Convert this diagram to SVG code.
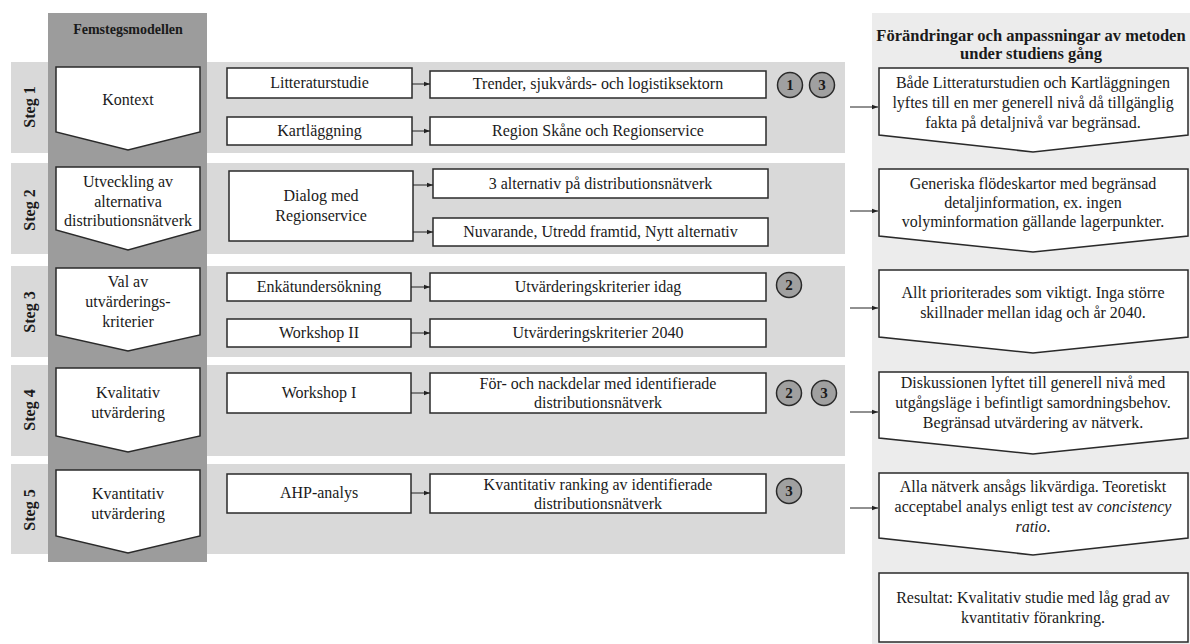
<svg xmlns="http://www.w3.org/2000/svg" width="1190" height="644" viewBox="0 0 1190 644" font-family="'Liberation Serif', 'Times New Roman', serif">
  <defs>
    <marker id="ah" viewBox="0 0 6 6" refX="6" refY="3" markerWidth="6" markerHeight="6" markerUnits="userSpaceOnUse" orient="auto">
      <path d="M0,0.8 L6,3 L0,5.2 Z" fill="#222"/>
    </marker>
  </defs>
  <style>
    text { font-family: "Liberation Serif", "Times New Roman", serif; fill: #1a1a1a; }
    .t { font-size: 16px; text-anchor: middle; }
    .hd { font-size: 16.5px; font-weight: bold; text-anchor: middle; }
    .steg { font-size: 16px; font-weight: bold; text-anchor: middle; }
    .num { font-size: 15px; font-weight: bold; text-anchor: middle; }
    .band { fill: #d9d9d9; }
    .box { fill: #ffffff; stroke: #2a2a2a; stroke-width: 1.5; }
    .badge { fill: #a0a0a0; stroke: #2a2a2a; stroke-width: 1.5; }
    .conn { stroke: #222; stroke-width: 1; fill: none; marker-end: url(#ah); }
  </style>

  <!-- background panels -->
  <rect x="872" y="13" width="318" height="631" fill="#ececec"/>
  <rect class="band" x="11" y="62" width="834" height="91"/>
  <rect class="band" x="11" y="163" width="834" height="91"/>
  <rect class="band" x="11" y="266" width="834" height="91"/>
  <rect class="band" x="11" y="365" width="834" height="91"/>
  <rect class="band" x="11" y="464" width="834" height="90"/>
  <rect x="48" y="13" width="159" height="549" fill="#9c9c9c"/>

  <!-- headers -->
  <text x="128" y="34" style="font-size:14px;font-weight:bold;text-anchor:middle">Femstegsmodellen</text>
  <text class="hd" x="1031" y="41">Förändringar och anpassningar av metoden</text>
  <text class="hd" x="1031" y="59">under studiens gång</text>

  <!-- step labels -->
  <g id="steg-labels">
    <text class="steg" transform="translate(35,107) rotate(-90)">Steg 1</text>
    <text class="steg" transform="translate(35,210) rotate(-90)">Steg 2</text>
    <text class="steg" transform="translate(35,312) rotate(-90)">Steg 3</text>
    <text class="steg" transform="translate(35,410) rotate(-90)">Steg 4</text>
    <text class="steg" transform="translate(35,510) rotate(-90)">Steg 5</text>
  </g>

  <!-- five-step model -->
  <g id="kontext">
    <polygon class="box" points="56,67 200,67 200,132 128,150 56,132"/>
    <text class="t" x="128" y="105">Kontext</text>
  </g>
  <g id="utveckling">
    <polygon class="box" points="56,167 200,167 200,230 128,250 56,230"/>
    <text class="t" x="128" y="187">Utveckling av</text>
    <text class="t" x="128" y="207">alternativa</text>
    <text class="t" x="128" y="226">distributionsnätverk</text>
  </g>
  <g id="val">
    <polygon class="box" points="56,268 200,268 200,335 128,351 56,335"/>
    <text class="t" x="128" y="287">Val av</text>
    <text class="t" x="128" y="307">utvärderings-</text>
    <text class="t" x="128" y="327">kriterier</text>
  </g>
  <g id="kvalitativ">
    <polygon class="box" points="56,368 200,368 200,436 128,452 56,436"/>
    <text class="t" x="128" y="398">Kvalitativ</text>
    <text class="t" x="128" y="418">utvärdering</text>
  </g>
  <g id="kvantitativ">
    <polygon class="box" points="56,470 200,470 200,536 128,553 56,536"/>
    <text class="t" x="128" y="499">Kvantitativ</text>
    <text class="t" x="128" y="519">utvärdering</text>
  </g>

  <!-- methods -->
  <g id="litteraturstudie">
    <rect class="box" x="227" y="68" width="185" height="30"/>
    <text class="t" x="319.5" y="88">Litteraturstudie</text>
  </g>
  <g id="kartlaggning">
    <rect class="box" x="227" y="117" width="185" height="28"/>
    <text class="t" x="319.5" y="136">Kartläggning</text>
  </g>
  <g id="dialog">
    <rect class="box" x="229" y="171" width="184" height="70"/>
    <text class="t" x="321" y="201">Dialog med</text>
    <text class="t" x="321" y="221">Regionservice</text>
  </g>
  <g id="enkat">
    <rect class="box" x="227" y="273" width="184" height="28"/>
    <text class="t" x="319" y="292">Enkätundersökning</text>
  </g>
  <g id="workshop2">
    <rect class="box" x="227" y="319" width="184" height="28"/>
    <text class="t" x="319" y="338">Workshop II</text>
  </g>
  <g id="workshop1">
    <rect class="box" x="227" y="373" width="184" height="40"/>
    <text class="t" x="319" y="398">Workshop I</text>
  </g>
  <g id="ahp">
    <rect class="box" x="227" y="474" width="184" height="39"/>
    <text class="t" x="319" y="498">AHP-analys</text>
  </g>

  <!-- results -->
  <g id="trender">
    <rect class="box" x="430" y="71" width="336" height="27"/>
    <text class="t" x="598" y="89">Trender, sjukvårds- och logistiksektorn</text>
  </g>
  <g id="region">
    <rect class="box" x="430" y="117" width="336" height="28"/>
    <text class="t" x="598" y="136">Region Skåne och Regionservice</text>
  </g>
  <g id="alternativ">
    <rect class="box" x="433" y="169" width="335" height="29"/>
    <text class="t" x="600.5" y="189">3 alternativ på distributionsnätverk</text>
  </g>
  <g id="nuvarande">
    <rect class="box" x="433" y="218" width="335" height="28"/>
    <text class="t" x="600.5" y="237">Nuvarande, Utredd framtid, Nytt alternativ</text>
  </g>
  <g id="kriterier-idag">
    <rect class="box" x="430" y="273" width="336" height="28"/>
    <text class="t" x="598" y="292">Utvärderingskriterier idag</text>
  </g>
  <g id="kriterier-2040">
    <rect class="box" x="430" y="319" width="336" height="28"/>
    <text class="t" x="598" y="338">Utvärderingskriterier 2040</text>
  </g>
  <g id="for-nackdelar">
    <rect class="box" x="430" y="373" width="336" height="40"/>
    <text class="t" x="598" y="389">För- och nackdelar med identifierade</text>
    <text class="t" x="598" y="408">distributionsnätverk</text>
  </g>
  <g id="ranking">
    <rect class="box" x="430" y="474" width="336" height="39"/>
    <text class="t" x="598" y="490">Kvantitativ ranking av identifierade</text>
    <text class="t" x="598" y="509">distributionsnätverk</text>
  </g>

  <!-- numbered badges -->
  <g id="badges">
    <circle class="badge" cx="790" cy="85" r="12.5"/><text class="num" x="790" y="90">1</text>
    <circle class="badge" cx="822" cy="85" r="12.5"/><text class="num" x="822" y="90">3</text>
    <circle class="badge" cx="789" cy="285" r="12.5"/><text class="num" x="789" y="290">2</text>
    <circle class="badge" cx="789" cy="393" r="12.5"/><text class="num" x="789" y="398">2</text>
    <circle class="badge" cx="824" cy="393" r="12.5"/><text class="num" x="824" y="398">3</text>
    <circle class="badge" cx="789" cy="491" r="12.5"/><text class="num" x="789" y="496">3</text>
  </g>

  <!-- changes during the study -->
  <g id="andring1">
    <polygon class="box" points="879,68 1188,68 1188,135 1033,152 879,135"/>
    <text class="t" x="1033" y="88">Både Litteraturstudien och Kartläggningen</text>
    <text class="t" x="1033" y="108">lyftes till en mer generell nivå då tillgänglig</text>
    <text class="t" x="1033" y="128">fakta på detaljnivå var begränsad.</text>
  </g>
  <g id="andring2">
    <polygon class="box" points="879,169 1188,169 1188,236 1033,252 879,236"/>
    <text class="t" x="1033" y="189">Generiska flödeskartor med begränsad</text>
    <text class="t" x="1033" y="208">detaljinformation, ex. ingen</text>
    <text class="t" x="1033" y="227">volyminformation gällande lagerpunkter.</text>
  </g>
  <g id="andring3">
    <polygon class="box" points="879,270 1188,270 1188,337 1033,353 879,337"/>
    <text class="t" x="1033" y="298">Allt prioriterades som viktigt. Inga större</text>
    <text class="t" x="1033" y="318">skillnader mellan idag och år 2040.</text>
  </g>
  <g id="andring4">
    <polygon class="box" points="879,372 1188,372 1188,438 1033,454 879,438"/>
    <text class="t" x="1033" y="388">Diskussionen lyftet till generell nivå med</text>
    <text class="t" x="1033" y="408">utgångsläge i befintligt samordningsbehov.</text>
    <text class="t" x="1033" y="428">Begränsad utvärdering av nätverk.</text>
  </g>
  <g id="andring5">
    <polygon class="box" points="879,473 1188,473 1188,538 1033,555 879,538"/>
    <text class="t" x="1033" y="492">Alla nätverk ansågs likvärdiga. Teoretiskt</text>
    <text class="t" x="1033" y="512">acceptabel analys enligt test av <tspan font-style="italic">concistency</tspan></text>
    <text class="t" x="1033" y="532"><tspan font-style="italic">ratio</tspan>.</text>
  </g>
  <g id="resultat">
    <rect class="box" x="879" y="573" width="309" height="69"/>
    <text class="t" x="1033" y="603">Resultat: Kvalitativ studie med låg grad av</text>
    <text class="t" x="1033" y="623">kvantitativ förankring.</text>
  </g>

  <!-- connectors -->
  <g id="connectors">
    <line class="conn" x1="412" y1="84" x2="430" y2="84"/>
    <line class="conn" x1="412" y1="131" x2="430" y2="131"/>
    <line class="conn" x1="413" y1="185" x2="433" y2="185"/>
    <line class="conn" x1="413" y1="232" x2="433" y2="232"/>
    <line class="conn" x1="411" y1="287" x2="430" y2="287"/>
    <line class="conn" x1="411" y1="333" x2="430" y2="333"/>
    <line class="conn" x1="411" y1="393" x2="430" y2="393"/>
    <line class="conn" x1="411" y1="493" x2="430" y2="493"/>
    <line class="conn" x1="850" y1="107" x2="878" y2="107"/>
    <line class="conn" x1="850" y1="211" x2="878" y2="211"/>
    <line class="conn" x1="850" y1="308" x2="878" y2="308"/>
    <line class="conn" x1="850" y1="412" x2="878" y2="412"/>
    <line class="conn" x1="850" y1="508" x2="878" y2="508"/>
  </g>
</svg>
